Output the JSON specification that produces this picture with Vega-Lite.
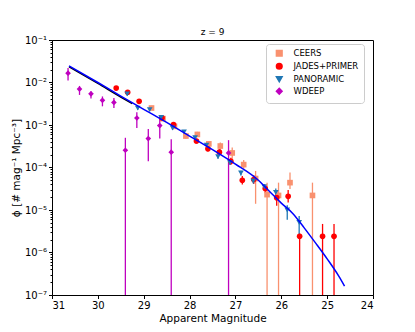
{
  "$schema": "https://vega.github.io/schema/vega-lite/v6.json",
  "width": 321,
  "height": 255,
  "autosize": {"type": "none"},
  "padding": {"left": 52, "top": 40, "right": 42, "bottom": 37},
  "config": {
    "font": "DejaVu Sans",
    "view": {"stroke": "#000", "strokeWidth": 1},
    "axis": {"domainColor": "#000", "tickColor": "#000", "labelColor": "#000", "titleColor": "#000", "grid": false, "labelFont": "DejaVu Sans", "titleFont": "DejaVu Sans", "titleFontWeight": "normal"}
  },
  "title": {"text": "z = 9", "fontSize": 9, "fontWeight": "normal", "font": "DejaVu Sans", "color": "#000", "offset": -2, "frame": "group"},
  "datasets": {
    "pts": [
      {"s": "CEERS", "mag": 28.83, "phi": 2.51e-3, "lo": 2.24e-3, "hi": 2.82e-3},
      {"s": "CEERS", "mag": 28.58, "phi": 1.41e-3, "lo": 1.26e-3, "hi": 1.58e-3},
      {"s": "CEERS", "mag": 28.33, "phi": 9.3e-4, "lo": 8.3e-4, "hi": 1.05e-3},
      {"s": "CEERS", "mag": 28.08, "phi": 5.5e-4, "lo": 4.8e-4, "hi": 6.3e-4},
      {"s": "CEERS", "mag": 27.83, "phi": 6.0e-4, "lo": 5.2e-4, "hi": 6.9e-4},
      {"s": "CEERS", "mag": 27.58, "phi": 3.6e-4, "lo": 3.1e-4, "hi": 4.2e-4},
      {"s": "CEERS", "mag": 27.33, "phi": 3.2e-4, "lo": 2.4e-4, "hi": 3.9e-4},
      {"s": "CEERS", "mag": 27.07, "phi": 2.2e-4, "lo": 1.55e-4, "hi": 2.95e-4},
      {"s": "CEERS", "mag": 26.82, "phi": 1.17e-4, "lo": 9.3e-5, "hi": 1.5e-4},
      {"s": "CEERS", "mag": 26.56, "phi": 5.5e-5, "lo": 1.4e-5, "hi": 8.3e-5},
      {"s": "CEERS", "mag": 26.31, "phi": 2.3e-5, "lo": 1e-7, "hi": 4.4e-5},
      {"s": "CEERS", "mag": 26.06, "phi": 2.2e-5, "lo": 1e-7, "hi": 4.4e-5},
      {"s": "CEERS", "mag": 25.81, "phi": 4.4e-5, "lo": 3.1e-5, "hi": 7.6e-5},
      {"s": "CEERS", "mag": 25.32, "phi": 2.2e-5, "lo": 1e-7, "hi": 4.4e-5},
      {"s": "JADES+PRIMER", "mag": 29.6, "phi": 7.4e-3, "lo": 6.6e-3, "hi": 8.3e-3},
      {"s": "JADES+PRIMER", "mag": 29.35, "phi": 5.9e-3, "lo": 5.3e-3, "hi": 6.6e-3},
      {"s": "JADES+PRIMER", "mag": 29.1, "phi": 3.6e-3, "lo": 3.2e-3, "hi": 4.0e-3},
      {"s": "JADES+PRIMER", "mag": 28.6, "phi": 1.47e-3, "lo": 1.3e-3, "hi": 1.65e-3},
      {"s": "JADES+PRIMER", "mag": 28.35, "phi": 1.02e-3, "lo": 9.0e-4, "hi": 1.15e-3},
      {"s": "JADES+PRIMER", "mag": 27.85, "phi": 4.2e-4, "lo": 3.65e-4, "hi": 4.8e-4},
      {"s": "JADES+PRIMER", "mag": 27.6, "phi": 2.75e-4, "lo": 2.4e-4, "hi": 3.15e-4},
      {"s": "JADES+PRIMER", "mag": 27.35, "phi": 2.3e-4, "lo": 1.95e-4, "hi": 2.7e-4},
      {"s": "JADES+PRIMER", "mag": 27.1, "phi": 1.4e-4, "lo": 1.15e-4, "hi": 1.7e-4},
      {"s": "JADES+PRIMER", "mag": 26.85, "phi": 5.0e-5, "lo": 4.0e-5, "hi": 6.3e-5},
      {"s": "JADES+PRIMER", "mag": 26.6, "phi": 5.2e-5, "lo": 4.1e-5, "hi": 6.6e-5},
      {"s": "JADES+PRIMER", "mag": 26.35, "phi": 3.2e-5, "lo": 2.5e-5, "hi": 4.0e-5},
      {"s": "JADES+PRIMER", "mag": 26.1, "phi": 1.95e-5, "lo": 1.26e-5, "hi": 2.8e-5},
      {"s": "JADES+PRIMER", "mag": 25.85, "phi": 2.1e-5, "lo": 1.5e-5, "hi": 2.95e-5},
      {"s": "JADES+PRIMER", "mag": 25.6, "phi": 2.4e-6, "lo": 1e-7, "hi": 2.8e-6},
      {"s": "JADES+PRIMER", "mag": 25.1, "phi": 2.4e-6, "lo": 1e-7, "hi": 4.7e-6},
      {"s": "JADES+PRIMER", "mag": 24.85, "phi": 2.4e-6, "lo": 1e-7, "hi": 4.7e-6},
      {"s": "PANORAMIC", "mag": 29.36, "phi": 5.4e-3, "lo": 4.9e-3, "hi": 5.9e-3},
      {"s": "PANORAMIC", "mag": 29.13, "phi": 2.5e-3, "lo": 2.28e-3, "hi": 2.74e-3},
      {"s": "PANORAMIC", "mag": 28.87, "phi": 2.3e-3, "lo": 2.1e-3, "hi": 2.5e-3},
      {"s": "PANORAMIC", "mag": 28.62, "phi": 1.5e-3, "lo": 1.37e-3, "hi": 1.64e-3},
      {"s": "PANORAMIC", "mag": 28.37, "phi": 8.5e-4, "lo": 7.7e-4, "hi": 9.3e-4},
      {"s": "PANORAMIC", "mag": 28.12, "phi": 6.9e-4, "lo": 6.3e-4, "hi": 7.6e-4},
      {"s": "PANORAMIC", "mag": 27.88, "phi": 5.0e-4, "lo": 4.5e-4, "hi": 5.5e-4},
      {"s": "PANORAMIC", "mag": 27.63, "phi": 3.35e-4, "lo": 3.0e-4, "hi": 3.7e-4},
      {"s": "PANORAMIC", "mag": 27.38, "phi": 1.8e-4, "lo": 1.6e-4, "hi": 2.0e-4},
      {"s": "PANORAMIC", "mag": 27.12, "phi": 1.3e-4, "lo": 1.15e-4, "hi": 1.45e-4},
      {"s": "PANORAMIC", "mag": 26.88, "phi": 7.4e-5, "lo": 6.5e-5, "hi": 8.4e-5},
      {"s": "PANORAMIC", "mag": 26.61, "phi": 4.8e-5, "lo": 4.2e-5, "hi": 5.5e-5},
      {"s": "PANORAMIC", "mag": 26.37, "phi": 3.5e-5, "lo": 3.0e-5, "hi": 4.1e-5},
      {"s": "PANORAMIC", "mag": 26.12, "phi": 2.6e-5, "lo": 2.1e-5, "hi": 3.2e-5},
      {"s": "PANORAMIC", "mag": 25.87, "phi": 1.0e-5, "lo": 5.9e-6, "hi": 1.29e-5},
      {"s": "PANORAMIC", "mag": 25.61, "phi": 5.1e-6, "lo": 2.45e-6, "hi": 7.2e-6},
      {"s": "WDEEP", "mag": 30.65, "phi": 1.66e-2, "lo": 1.12e-2, "hi": 2.19e-2},
      {"s": "WDEEP", "mag": 30.4, "phi": 7.0e-3, "lo": 5.1e-3, "hi": 8.3e-3},
      {"s": "WDEEP", "mag": 30.15, "phi": 5.4e-3, "lo": 4.2e-3, "hi": 6.2e-3},
      {"s": "WDEEP", "mag": 29.9, "phi": 3.8e-3, "lo": 2.75e-3, "hi": 4.7e-3},
      {"s": "WDEEP", "mag": 29.65, "phi": 3.4e-3, "lo": 2.5e-3, "hi": 4.3e-3},
      {"s": "WDEEP", "mag": 29.4, "phi": 2.55e-4, "lo": 1e-7, "hi": 5.0e-4},
      {"s": "WDEEP", "mag": 29.15, "phi": 1.46e-3, "lo": 8.5e-4, "hi": 2.0e-3},
      {"s": "WDEEP", "mag": 28.9, "phi": 4.8e-4, "lo": 1.41e-4, "hi": 8.1e-4},
      {"s": "WDEEP", "mag": 28.65, "phi": 9.7e-4, "lo": 4.8e-4, "hi": 1.58e-3},
      {"s": "WDEEP", "mag": 28.4, "phi": 2.3e-4, "lo": 1e-7, "hi": 4.6e-4},
      {"s": "WDEEP", "mag": 27.15, "phi": 2.2e-4, "lo": 1e-7, "hi": 4.4e-4}
    ],
    "fit": [
      {"mag": 30.63, "phi": 0.02455},
      {"mag": 30.0, "phi": 0.0100},
      {"mag": 29.5, "phi": 0.004786},
      {"mag": 29.0, "phi": 0.002344},
      {"mag": 28.5, "phi": 0.001148},
      {"mag": 28.0, "phi": 5.50e-4},
      {"mag": 27.5, "phi": 2.63e-4},
      {"mag": 27.0, "phi": 1.20e-4},
      {"mag": 26.5, "phi": 5.01e-5},
      {"mag": 26.25, "phi": 2.69e-5},
      {"mag": 26.0, "phi": 1.45e-5},
      {"mag": 25.75, "phi": 8.32e-6},
      {"mag": 25.5, "phi": 3.80e-6},
      {"mag": 25.25, "phi": 1.66e-6},
      {"mag": 25.0, "phi": 7.08e-7},
      {"mag": 24.75, "phi": 2.82e-7},
      {"mag": 24.62, "phi": 1.62e-7}
    ],
    "fit2": [
      {"mag": 30.63, "phi": 0.0234},
      {"mag": 30.0, "phi": 0.0095},
      {"mag": 29.5, "phi": 0.00455},
      {"mag": 29.25, "phi": 0.0032}
    ]
  },
  "layer": [
    {
      "data": {"name": "pts"},
      "mark": {"type": "rule", "strokeWidth": 1.3, "clip": true},
      "encoding": {
        "x": {"field": "mag", "type": "quantitative"},
        "y": {"field": "lo", "type": "quantitative"},
        "y2": {"field": "hi"},
        "color": {"field": "s", "type": "nominal"}
      }
    },
    {
      "data": {"name": "pts"},
      "mark": {"type": "point", "filled": true, "opacity": 1, "size": 32, "clip": true},
      "encoding": {
        "x": {"field": "mag", "type": "quantitative", "scale": {"domain": [31, 24], "nice": false, "zero": false},
          "axis": {"title": "Apparent Magnitude", "values": [31, 30, 29, 28, 27, 26, 25, 24], "format": "d", "labelFontSize": 10, "titleFontSize": 10.5, "tickSize": 3.5, "labelPadding": 2, "titlePadding": 3}},
        "y": {"field": "phi", "type": "quantitative", "scale": {"type": "log", "domain": [1e-7, 0.1], "nice": false},
          "axis": {"title": "ϕ [# mag⁻¹ Mpc⁻³]", "titleFontSize": 10.5, "labelFontSize": 10, "labelPadding": 2, "titlePadding": 3,
            "values": [1e-7, 2e-7, 3e-7, 4e-7, 5e-7, 6e-7, 7e-7, 8e-7, 9e-7, 1e-6, 2e-6, 3e-6, 4e-6, 5e-6, 6e-6, 7e-6, 8e-6, 9e-6, 1e-5, 2e-5, 3e-5, 4e-5, 5e-5, 6e-5, 7e-5, 8e-5, 9e-5, 1e-4, 2e-4, 3e-4, 4e-4, 5e-4, 6e-4, 7e-4, 8e-4, 9e-4, 1e-3, 2e-3, 3e-3, 4e-3, 5e-3, 6e-3, 7e-3, 8e-3, 9e-3, 1e-2, 2e-2, 3e-2, 4e-2, 5e-2, 6e-2, 7e-2, 8e-2, 9e-2, 0.1],
            "labelExpr": "abs(log(datum.value)/LN10 - round(log(datum.value)/LN10)) > 0.01 ? '' : '10' + ['⁰','⁻¹','⁻²','⁻³','⁻⁴','⁻⁵','⁻⁶','⁻⁷'][-round(log(datum.value)/LN10)]",
            "tickSize": {"condition": {"test": "abs(log(datum.value)/LN10 - round(log(datum.value)/LN10)) > 0.01", "value": 2}, "value": 3.5}}},
        "color": {"field": "s", "type": "nominal",
          "scale": {"domain": ["CEERS", "JADES+PRIMER", "PANORAMIC", "WDEEP"], "range": ["#f9916f", "#ff0000", "#1f77b4", "#bf00bf"]},
          "legend": {"title": null, "orient": "none", "legendX": 214, "legendY": 4, "labelFontSize": 8.5, "labelFont": "DejaVu Sans", "labelColor": "#000", "symbolSize": 32, "rowPadding": 0, "padding": 5, "strokeColor": "#cccccc", "cornerRadius": 3, "fillColor": "#ffffff", "labelOffset": 10, "symbolOffset": 4}},
        "shape": {"field": "s", "type": "nominal",
          "scale": {"domain": ["CEERS", "JADES+PRIMER", "PANORAMIC", "WDEEP"], "range": ["square", "circle", "triangle-down", "diamond"]},
          "legend": {"title": null, "orient": "none", "legendX": 214, "legendY": 4, "labelFontSize": 8.5, "labelFont": "DejaVu Sans", "labelColor": "#000", "symbolSize": 32, "rowPadding": 0, "padding": 5, "strokeColor": "#cccccc", "cornerRadius": 3, "fillColor": "#ffffff", "labelOffset": 10, "symbolOffset": 4}}
      }
    },
    {
      "data": {"name": "fit2"},
      "mark": {"type": "line", "color": "#000000", "strokeWidth": 1.5, "interpolate": "monotone", "clip": true},
      "encoding": {
        "x": {"field": "mag", "type": "quantitative"},
        "y": {"field": "phi", "type": "quantitative"}
      }
    },
    {
      "data": {"name": "fit"},
      "mark": {"type": "line", "color": "#0000ff", "strokeWidth": 1.5, "interpolate": "monotone", "clip": true},
      "encoding": {
        "x": {"field": "mag", "type": "quantitative"},
        "y": {"field": "phi", "type": "quantitative"}
      }
    }
  ]
}
